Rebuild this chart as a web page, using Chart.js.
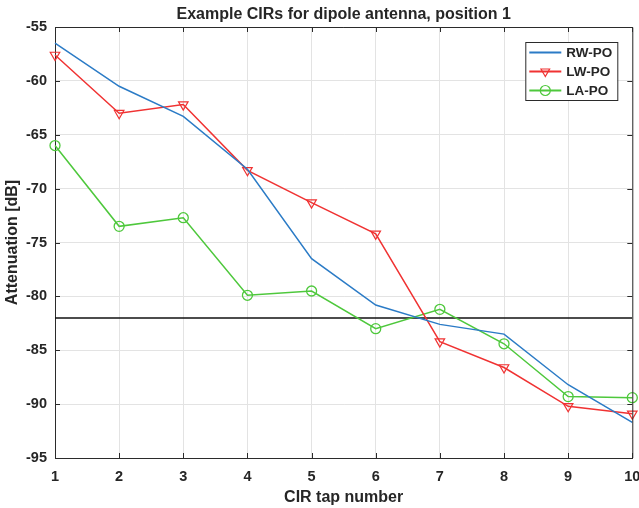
<!DOCTYPE html>
<html>
<head>
<meta charset="utf-8">
<script src="https://cdn.jsdelivr.net/npm/chart.js@4/dist/chart.umd.min.js"></script>
<style>
  html, body { margin: 0; padding: 0; background: #fff; }
  #wrap { width: 639px; height: 508px; }
</style>
</head>
<body>
<div id="wrap"><canvas id="cir-canvas" width="639" height="508"></canvas></div>
<script>
// CIR tap index and attenuation per tap (dB).
const taps = [1, 2, 3, 4, 5, 6, 7, 8, 9, 10];
const rwPo = [-56.5, -60.5, -63.3, -68.2, -76.5, -80.8, -82.6, -83.5, -88.2, -91.7];
const lwPo = [-57.6, -63.0, -62.2, -68.3, -71.3, -74.2, -84.2, -86.6, -90.2, -90.9];
const laPo = [-66.0, -73.5, -72.7, -79.9, -79.5, -83.0, -81.2, -84.4, -89.3, -89.4];
const threshold = -82;

const seriesNames = ['RW-PO', 'LW-PO', 'LA-PO'];
const seriesColors = ['#2b7bc6', '#f03232', '#4ec83c'];

const FONT = "'Liberation Sans', Arial, Helvetica, sans-serif";
const TEXT = '#262626';
const AXIS = '#2b2b2b';

function toPoints(values) {
    return taps.map((t, i) => ({ x: t, y: values[i] }));
}

// MATLAB-ish box: top/right edges plus short inward ticks on all sides.
const boxPlugin = {
    id: 'matlabBox',
    afterDatasetsDraw(chart) {
        const { ctx, chartArea: a, scales } = chart;
        const tl = 5;
        ctx.save();
        ctx.strokeStyle = AXIS;
        ctx.lineWidth = 1;
        ctx.beginPath();
        ctx.moveTo(a.left, a.top + 0.5);
        ctx.lineTo(a.right + 0.5, a.top + 0.5);
        ctx.lineTo(a.right + 0.5, a.bottom);
        ctx.stroke();
        ctx.beginPath();
        scales.x.ticks.forEach(t => {
            const px = Math.round(scales.x.getPixelForValue(t.value)) + 0.5;
            ctx.moveTo(px, a.top);
            ctx.lineTo(px, a.top + tl);
            ctx.moveTo(px, a.bottom);
            ctx.lineTo(px, a.bottom - tl);
        });
        scales.y.ticks.forEach(t => {
            const py = Math.round(scales.y.getPixelForValue(t.value)) + 0.5;
            ctx.moveTo(a.left, py);
            ctx.lineTo(a.left + tl, py);
            ctx.moveTo(a.right, py);
            ctx.lineTo(a.right - tl, py);
        });
        ctx.stroke();
        ctx.restore();
    }
};

// Boxed legend in the upper-right corner of the axes.
const legendPlugin = {
    id: 'boxLegend',
    afterDraw(chart) {
        const { ctx, chartArea: a } = chart;
        const w = 92, h = 58;
        const x0 = a.right - 15 - w, y0 = a.top + 15;
        ctx.save();
        ctx.fillStyle = '#fff';
        ctx.fillRect(x0, y0, w, h);
        ctx.strokeStyle = AXIS;
        ctx.lineWidth = 1;
        ctx.strokeRect(x0 + 0.5, y0 + 0.5, w, h);
        ctx.font = 'bold 13.5px ' + FONT;
        ctx.textBaseline = 'middle';
        ctx.textAlign = 'left';
        for (let i = 0; i < seriesNames.length; i++) {
            const ds = chart.data.datasets[i];
            const cy = y0 + 10.5 + i * 19;
            ctx.strokeStyle = seriesColors[i];
            ctx.lineWidth = 2;
            ctx.beginPath();
            ctx.moveTo(x0 + 4, cy);
            ctx.lineTo(x0 + 36, cy);
            ctx.stroke();
            if (ds.pointStyle && ds.pointRadius > 0) {
                ctx.lineWidth = 1.2;
                ctx.fillStyle = 'rgba(0,0,0,0)';
                Chart.helpers.drawPoint(ctx, {
                    pointStyle: ds.pointStyle,
                    rotation: ds.pointRotation || 0,
                    radius: 5,
                    borderWidth: 1.2
                }, x0 + 20, cy);
            }
            ctx.fillStyle = TEXT;
            ctx.fillText(seriesNames[i], x0 + 41, cy + 0.5);
        }
        ctx.restore();
    }
};

new Chart(document.getElementById('cir-canvas'), {
    type: 'line',
    data: {
        datasets: [
            {
                label: seriesNames[0],
                data: toPoints(rwPo),
                borderColor: seriesColors[0],
                borderWidth: 1.5,
                pointRadius: 0,
                clip: false
            },
            {
                label: seriesNames[1],
                data: toPoints(lwPo),
                borderColor: seriesColors[1],
                borderWidth: 1.5,
                pointStyle: 'triangle',
                pointRotation: 180,
                pointRadius: 5.5,
                pointBorderWidth: 1.2,
                pointBorderColor: seriesColors[1],
                pointBackgroundColor: 'rgba(0,0,0,0)',
                clip: false
            },
            {
                label: seriesNames[2],
                data: toPoints(laPo),
                borderColor: seriesColors[2],
                borderWidth: 1.5,
                pointStyle: 'circle',
                pointRadius: 5,
                pointBorderWidth: 1.3,
                pointBorderColor: seriesColors[2],
                pointBackgroundColor: 'rgba(0,0,0,0)',
                clip: false
            },
            {
                label: 'threshold',
                data: taps.map(t => ({ x: t, y: threshold })),
                borderColor: '#111',
                borderWidth: 1.5,
                pointRadius: 0
            }
        ]
    },
    options: {
        responsive: false,
        animation: false,
        layout: { padding: { right: 6 } },
        plugins: {
            legend: { display: false },
            tooltip: { enabled: false },
            title: {
                display: true,
                text: 'Example CIRs for dipole antenna, position 1',
                fullSize: false,
                color: TEXT,
                font: { family: FONT, size: 16, weight: 'bold' },
                padding: { top: 5, bottom: 2.8 }
            }
        },
        scales: {
            x: {
                type: 'linear',
                min: 1,
                max: 10,
                afterFit: s => {
                    s.height = 50;
                    s.paddingLeft = 0;
                    s.paddingRight = 0;
                },
                ticks: {
                    stepSize: 1,
                    padding: 10,
                    color: TEXT,
                    font: { family: FONT, size: 14.5, weight: 'bold' }
                },
                grid: { color: '#e3e3e3', drawTicks: false },
                border: { color: AXIS, width: 1 },
                title: {
                    display: true,
                    text: 'CIR tap number',
                    color: TEXT,
                    font: { family: FONT, size: 16, weight: 'bold' },
                    padding: { top: 0, bottom: 1 }
                }
            },
            y: {
                min: -95,
                max: -55,
                afterFit: s => {
                    s.width = 55;
                    s.paddingTop = 0;
                    s.paddingBottom = 0;
                },
                ticks: {
                    stepSize: 5,
                    padding: 8,
                    color: TEXT,
                    font: { family: FONT, size: 14.5, weight: 'bold' }
                },
                grid: { color: '#e3e3e3', drawTicks: false },
                border: { color: AXIS, width: 1 },
                title: {
                    display: true,
                    text: 'Attenuation [dB]',
                    color: TEXT,
                    font: { family: FONT, size: 16, weight: 'bold' },
                    padding: { top: 3, bottom: 0 }
                }
            }
        }
    },
    plugins: [boxPlugin, legendPlugin]
});
</script>
</body>
</html>
